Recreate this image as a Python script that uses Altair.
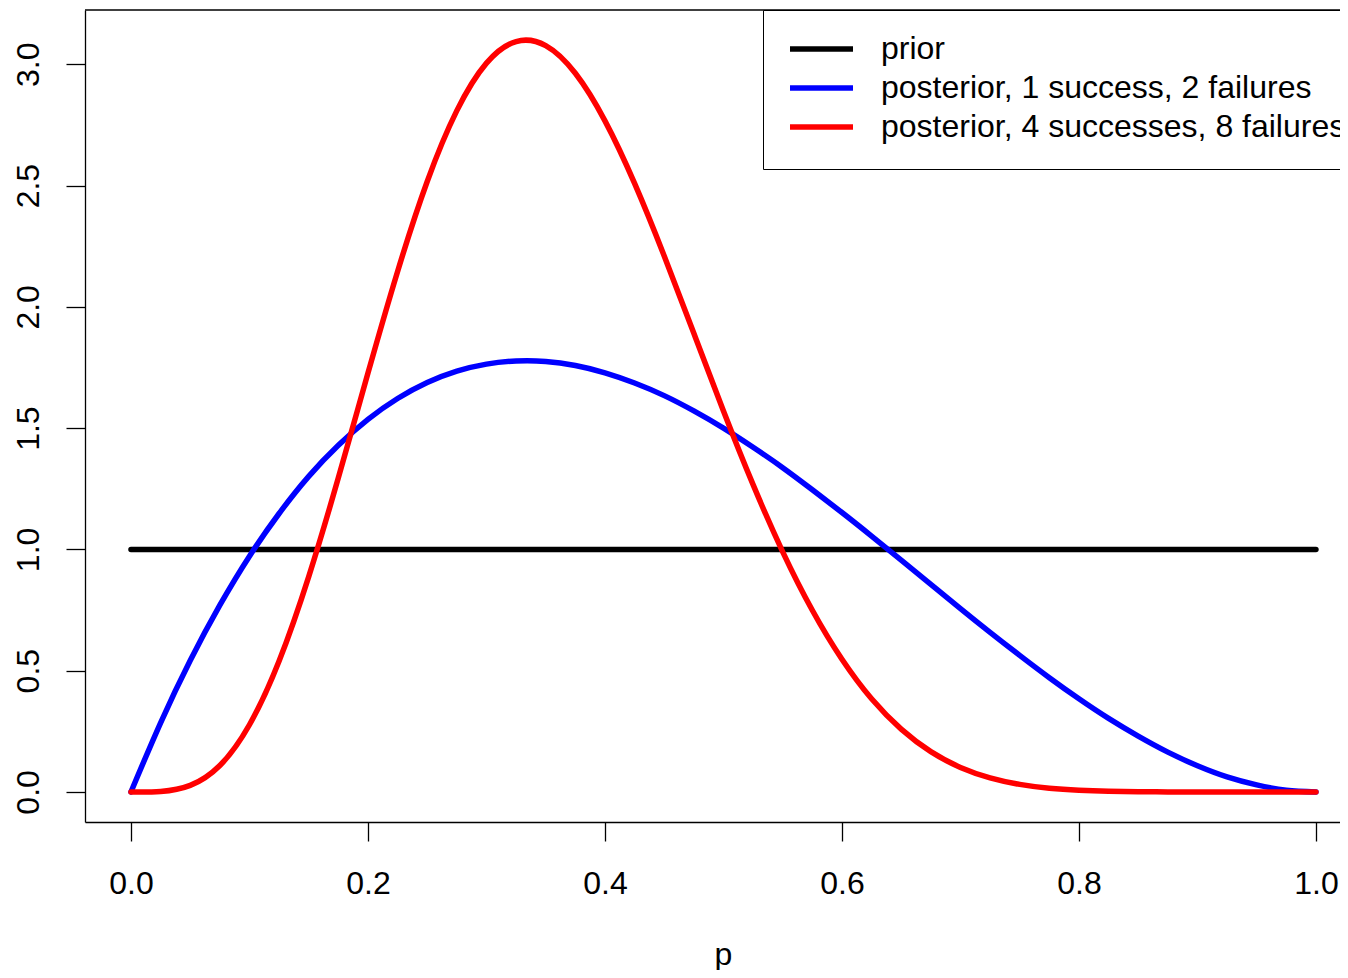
import altair as alt
import pandas as pd

# grid of p values read along the x axis
p = [0.0, 0.025, 0.05, 0.075, 0.1, 0.125, 0.15, 0.175, 0.2, 0.225, 0.25,
     0.275, 0.3, 0.325, 0.35, 0.375, 0.4, 0.425, 0.45, 0.475, 0.5,
     0.525, 0.55, 0.575, 0.6, 0.625, 0.65, 0.675, 0.7, 0.725, 0.75,
     0.775, 0.8, 0.825, 0.85, 0.875, 0.9, 0.925, 0.95, 0.975, 1.0]

prior = [1.0] * len(p)

post_1_2 = [0.0, 0.285, 0.542, 0.770, 0.972, 1.148, 1.301, 1.429, 1.536, 1.622, 1.688,
            1.735, 1.764, 1.777, 1.775, 1.758, 1.728, 1.686, 1.634, 1.571, 1.500,
            1.421, 1.337, 1.246, 1.152, 1.055, 0.956, 0.856, 0.756, 0.658, 0.563,
            0.471, 0.384, 0.303, 0.230, 0.164, 0.108, 0.062, 0.029, 0.007, 0.0]

post_4_8 = [0.0, 0.002, 0.027, 0.109, 0.277, 0.540, 0.888, 1.295, 1.727, 2.146, 2.517,
            2.809, 3.005, 3.094, 3.077, 2.963, 2.767, 2.509, 2.210, 1.891, 1.571,
            1.267, 0.990, 0.749, 0.547, 0.384, 0.259, 0.166, 0.101, 0.058, 0.031,
            0.015, 0.007, 0.003, 0.001, 0.0002, 0.0, 0.0, 0.0, 0.0, 0.0]

series_names = ["prior",
                "posterior, 1 success, 2 failures",
                "posterior, 4 successes, 8 failures"]
series_colors = ["black", "blue", "red"]

x_ticks = [0.0, 0.2, 0.4, 0.6, 0.8, 1.0]
y_ticks = [0.0, 0.5, 1.0, 1.5, 2.0, 2.5, 3.0]

rows = []
for name, vals in zip(series_names, [prior, post_1_2, post_4_8]):
    for pv, dv in zip(p, vals):
        rows.append({"p": pv, "density": dv, "series": name})
df = pd.DataFrame(rows)

FONT = "Liberation Sans"
W, H = 1255, 812

x_enc = alt.X("p:Q",
              scale=alt.Scale(domain=[-0.0388, 1.0203], nice=False, zero=False),
              axis=alt.Axis(values=x_ticks, format=".1f", title="p",
                            domain=True, domainColor="black", domainWidth=1.3,
                            grid=False, tickSize=19, tickWidth=1.3,
                            tickColor="black", labelPadding=52,
                            labelBaseline="alphabetic", labelFontSize=32,
                            labelFont=FONT, labelColor="black",
                            titleFont=FONT, titleFontSize=32, titleFontWeight="normal",
                            titleColor="black", titleX=638, titleY=142,
                            titleAlign="center", titleBaseline="alphabetic"))
y_enc = alt.Y("density:Q",
              scale=alt.Scale(domain=[-0.124, 3.224], nice=False, zero=False),
              axis=alt.Axis(values=y_ticks, format=".1f", title=None,
                            domain=True, domainColor="black", domainWidth=1.3,
                            grid=False, tickSize=19, tickWidth=1.3,
                            tickColor="black", labelAngle=270, labelAlign="center",
                            labelBaseline="alphabetic", labelPadding=28,
                            labelFontSize=32, labelFont=FONT, labelColor="black"))
color_enc = alt.Color("series:N",
                      scale=alt.Scale(domain=series_names, range=series_colors),
                      legend=alt.Legend(orient="none", legendX=678, legendY=0,
                                        title=None, symbolType="stroke",
                                        symbolSize=3969, symbolStrokeWidth=5.5,
                                        symbolOffset=-2,
                                        clipHeight=26, rowPadding=7, padding=26,
                                        labelOffset=25, labelFontSize=32,
                                        labelFont=FONT, labelColor="black",
                                        labelLimit=2000, strokeColor="black",
                                        fillColor="white"))

base = alt.Chart(df)
layers = []
for name in series_names:
    layers.append(
        base.transform_filter(alt.datum.series == name)
        .mark_line(strokeWidth=5.5, strokeCap="round", strokeJoin="round",
                   interpolate="natural")
        .encode(x=x_enc, y=y_enc, color=color_enc)
    )

# top edge of the plot box (the right edge lies outside the picture)
top_edge = alt.Chart(pd.DataFrame({"k": [0]})).mark_rule(
    color="black", strokeWidth=1.3
).encode(x=alt.value(0), x2=alt.value(W), y=alt.value(0))

chart = alt.layer(*layers, top_edge).properties(
    width=W, height=H,
    autosize=alt.AutoSizeParams(type="none"),
    padding={"left": 77, "top": 2, "right": 0, "bottom": 148},
).configure_view(stroke=None)

chart.save("out.html", embed_options={"renderer": "svg", "actions": False})
